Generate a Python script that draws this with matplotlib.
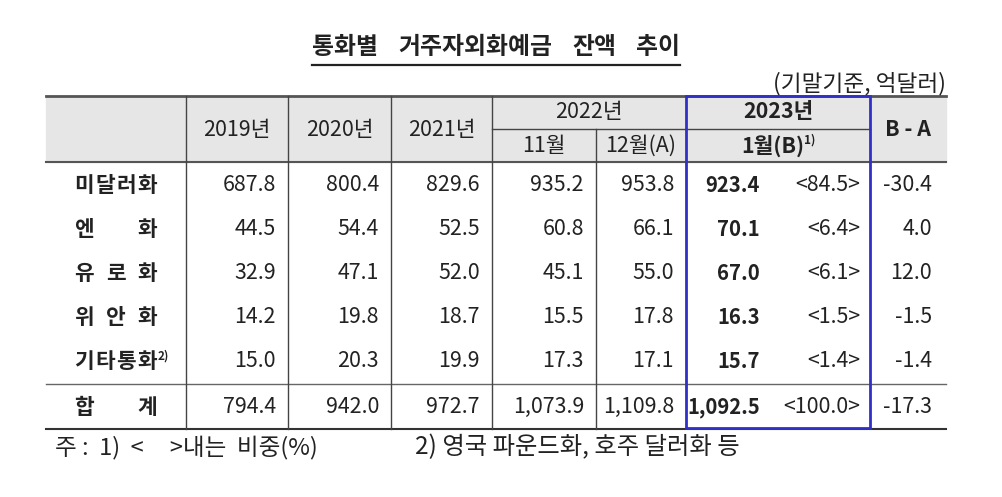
import matplotlib.pyplot as plt
from matplotlib.patches import Rectangle

plt.rcParams['font.family'] = ['Noto Sans CJK KR', 'DejaVu Sans']

# 표 데이터 (억달러, 기말기준)
rows = ['미달러화', '엔화', '유로화', '위안화', '기타통화', '합계']
y2019 = [687.8, 44.5, 32.9, 14.2, 15.0, 794.4]
y2020 = [800.4, 54.4, 47.1, 19.8, 20.3, 942.0]
y2021 = [829.6, 52.5, 52.0, 18.7, 19.9, 972.7]
nov22 = [935.2, 60.8, 45.1, 15.5, 17.3, 1073.9]
dec22 = [953.8, 66.1, 55.0, 17.8, 17.1, 1109.8]
jan23 = [923.4, 70.1, 67.0, 16.3, 15.7, 1092.5]
share = [84.5, 6.4, 6.1, 1.5, 1.4, 100.0]
diff = [-30.4, 4.0, 12.0, -1.5, -1.4, -17.3]

title_words = ['통화별', '거주자외화예금', '잔액', '추이']
unit = '(기말기준, 억달러)'
years = ['2019년', '2020년', '2021년']
note1 = '주 :  1)  <     >내는  비중(%)'
note2 = '2) 영국 파운드화, 호주 달러화 등'

TXT = '#222222'
LINE = '#444444'
BLUE = '#3030c8'
FS = 15.4

fig = plt.figure(figsize=(10.03, 4.97), dpi=100)
ax = fig.add_axes([0, 0, 1, 1])
ax.set_xlim(0, 1003)
ax.set_ylim(497, 0)
ax.axis('off')

# 좌표
L, R = 46, 946
top, hmid, hbot, tot, bot = 96, 129, 162, 384, 429
cols = [186, 288, 391, 492, 596, 686, 870]
row_y = [185, 229, 273, 317, 361, 407]

# 헤더 배경
ax.add_patch(Rectangle((L, top), R - L, hbot - top, color='#e6e6e6', zorder=0))

# 가로선
ax.plot([L, R], [top, top], color='#555555', lw=2.0)
ax.plot([L, R], [hbot, hbot], color='#555555', lw=1.5)
ax.plot([cols[3], cols[6]], [hmid, hmid], color=LINE, lw=1.0)
ax.plot([L, R], [tot, tot], color='#666666', lw=1.0)
ax.plot([L, R], [bot, bot], color='#333333', lw=1.5)

# 세로선
for x in cols[:4]:
    ax.plot([x, x], [top, bot], color=LINE, lw=1.0)
ax.plot([cols[4], cols[4]], [hmid, bot], color=LINE, lw=1.0)

# 2023년 강조 박스
ax.add_patch(Rectangle((cols[5], top), cols[6] - cols[5], bot - 1 - top,
                       fill=False, edgecolor=BLUE, lw=2.0, zorder=5))

fig.canvas.draw()
rend = fig.canvas.get_renderer()
inv = ax.transData.inverted()


def x_right(t):
    bb = t.get_window_extent(rend)
    return inv.transform([[bb.x1, bb.y0]])[0][0]


# 제목 (단어 간격 넓게)
tx = 312
for w in title_words:
    t = ax.text(tx, 47, w, ha='left', va='center', fontsize=17.2,
                fontweight='bold', color=TXT)
    tx = x_right(t) + 20
ax.plot([312, tx - 20], [65, 65], color=TXT, lw=1.6)

ax.text(R, 84, unit, ha='right', va='center', fontsize=16.3, color=TXT)

# 헤더 텍스트
for i, yr in enumerate(years):
    ax.text((cols[i] + cols[i + 1]) / 2, 130, yr, ha='center', va='center',
            fontsize=FS, color=TXT)
ax.text((cols[3] + cols[5]) / 2, 112, '2022년', ha='center', va='center',
        fontsize=FS, color=TXT)
ax.text((cols[3] + cols[4]) / 2, 146, '11월', ha='center', va='center',
        fontsize=FS, color=TXT)
ax.text((cols[4] + cols[5]) / 2, 146, '12월(A)', ha='center', va='center',
        fontsize=FS, color=TXT)
ax.text((cols[5] + cols[6]) / 2, 112, '2023년', ha='center', va='center',
        fontsize=FS, fontweight='bold', color=TXT)
m = ax.text((cols[5] + cols[6]) / 2 - 5, 146, '1월(B)', ha='center', va='center',
            fontsize=FS, fontweight='bold', color=TXT)
ax.text(x_right(m) - 1, 140, '1)', ha='left', va='center', fontsize=8.5,
        fontweight='bold', color=TXT)
ax.text((cols[6] + R) / 2, 130, 'B - A', ha='center', va='center',
        fontsize=FS, fontweight='bold', color=TXT)


# 행 제목 (균등 배분)
def spread(label, y, xl=73, xr=158, cw=21):
    n = len(label)
    c0, c1 = xl + cw / 2, xr - cw / 2
    for k, ch in enumerate(label):
        ax.text(c0 + (c1 - c0) * k / (n - 1), y, ch, ha='center', va='center',
                fontsize=FS, fontweight='bold', color=TXT)


for i, lab in enumerate(rows):
    spread(lab, row_y[i])
ax.text(158, row_y[4] - 5, '2)', ha='left', va='center', fontsize=8.5,
        fontweight='bold', color=TXT)

# 수치
pad = 12
series = [y2019, y2020, y2021, nov22, dec22]
for j, vals in enumerate(series):
    for i, v in enumerate(vals):
        ax.text(cols[j + 1] - pad, row_y[i], f'{v:,.1f}', ha='right',
                va='center', fontsize=FS, color=TXT)
for i in range(len(rows)):
    ax.text(760, row_y[i], f'{jan23[i]:,.1f}', ha='right', va='center',
            fontsize=FS - 0.8, fontweight='bold', color=TXT)
    ax.text(860, row_y[i], f'<{share[i]:.1f}>', ha='right', va='center',
            fontsize=FS, color=TXT)
    ax.text(R - 14, row_y[i], f'{diff[i]:.1f}', ha='right', va='center',
            fontsize=FS, color=TXT)

# 주석
ax.text(55, 447, note1, ha='left', va='center', fontsize=17, color=TXT)
ax.text(415, 447, note2, ha='left', va='center', fontsize=17.5, color=TXT)

fig.savefig('out.png', dpi=100, facecolor='white')
